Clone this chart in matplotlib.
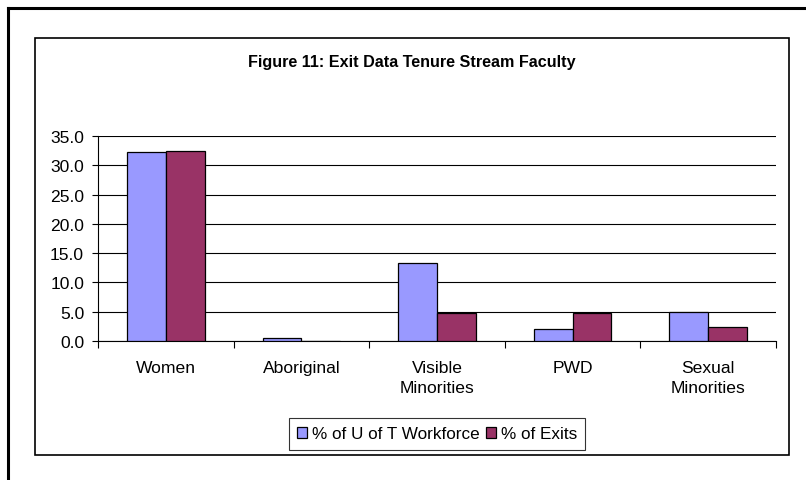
import matplotlib
matplotlib.use("Agg")
import matplotlib.pyplot as plt
import numpy as np
from matplotlib.lines import Line2D
from matplotlib.patches import Rectangle

categories = ["Women", "Aboriginal", "Visible\nMinorities", "PWD", "Sexual\nMinorities"]
workforce = [32.2, 0.5, 13.4, 2.0, 5.0]
exits = [32.4, 0.0, 4.8, 4.8, 2.4]
series_names = ["% of U of T Workforce", "% of Exits"]
yticks = [0, 5, 10, 15, 20, 25, 30, 35]
title = "Figure 11: Exit Data Tenure Stream Faculty"

plt.rcParams['font.family'] = ['Liberation Sans', 'DejaVu Sans']

W, H = 806, 481
fig = plt.figure(figsize=(W / 100, H / 100), dpi=100)

def fx(x):
    return x / W

def fy(y):
    return 1 - y / H

# outer frame lines
fig.add_artist(Line2D([fx(8), fx(806)], [fy(9), fy(9)], color='black', lw=2.2, transform=fig.transFigure))
fig.add_artist(Line2D([fx(8), fx(8)], [fy(9), fy(481)], color='black', lw=2.2, transform=fig.transFigure))
# inner chart box
fig.add_artist(Rectangle((fx(35), fy(456)), fx(789 - 35), (456 - 39) / H, fill=False,
                         edgecolor='black', lw=1.2, transform=fig.transFigure))

# plot area
left, right, top, bottom = 98, 776, 137, 342
ax = fig.add_axes([fx(left), fy(bottom), (right - left) / W, (bottom - top) / H])

n = len(categories)
x = np.arange(n)
bw = 1 / 3.5
ax.bar(x - bw / 2, workforce, bw, color='#9999FF', edgecolor='black', lw=0.9, label=series_names[0], zorder=3)
ax.bar(x + bw / 2, exits, bw, color='#993366', edgecolor='black', lw=0.9, label=series_names[1], zorder=3)

fs = 12.6
ax.set_xlim(-0.5, n - 0.5)
ax.set_ylim(0, 35)
ax.set_yticks(yticks)
ax.set_yticklabels([f"{v:.1f}" for v in yticks], fontsize=fs)
ax.yaxis.grid(True, color='black', lw=0.8, zorder=0)
ax.set_axisbelow(True)

ax.set_xticks(x)
ax.set_xticklabels(categories, fontsize=fs, linespacing=1.35)
ax.tick_params(axis='x', length=0, pad=14)
ax.set_xticks(np.arange(n + 1) - 0.5, minor=True)
ax.tick_params(axis='x', which='minor', length=5, width=0.8, direction='out')
ax.tick_params(axis='y', length=4, width=0.8, direction='out', pad=6)

for s in ['top', 'right']:
    ax.spines[s].set_visible(False)
ax.spines['left'].set_linewidth(0.8)
ax.spines['bottom'].set_linewidth(0.8)

fig.text(fx(412), fy(62), title, ha='center', va='center', fontsize=11.6, fontweight='bold')

leg = fig.legend(loc='center', bbox_to_anchor=(fx(437), fy(435)), ncol=2, frameon=True,
                 fontsize=12.3, handlelength=0.6, handleheight=0.6, handletextpad=0.25,
                 columnspacing=0.4, borderpad=0.5, borderaxespad=0, fancybox=False, edgecolor='black')
leg.get_frame().set_linewidth(0.8)

fig.savefig("out.png", dpi=100, facecolor='white')
